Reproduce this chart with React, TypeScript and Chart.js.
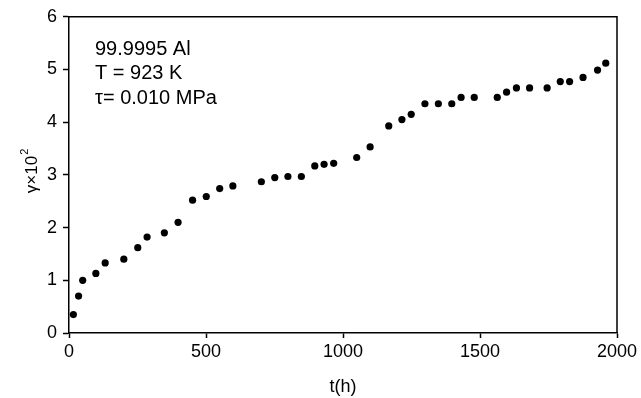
import React, { useEffect, useRef } from "react";
import { Chart, registerables } from "chart.js";

Chart.register(...registerables);

const times: number[] = [
  16, 35, 50, 98, 132, 200, 251, 285, 348, 398, 451, 501, 550, 598, 702, 751, 799, 848, 897, 931, 966,
  1050, 1099, 1167, 1215, 1249, 1299, 1348, 1397, 1431, 1479, 1563, 1597, 1633, 1681, 1745, 1793, 1827,
  1876, 1929, 1959,
];
const strains: number[] = [
  0.35, 0.7, 1.0, 1.13, 1.33, 1.4, 1.62, 1.82, 1.9, 2.1, 2.52, 2.59, 2.74, 2.79, 2.87, 2.95, 2.97, 2.97,
  3.17, 3.2, 3.22, 3.33, 3.53, 3.93, 4.05, 4.15, 4.35, 4.35, 4.35, 4.47, 4.47, 4.47, 4.57, 4.65, 4.65,
  4.65, 4.77, 4.77, 4.85, 4.99, 5.12,
];
const annotationLines: string[] = ["99.9995 Al", "T = 923 K", "\u03c4= 0.010 MPa"];
const xTitle = "t(h)";
const yTitleMain = "\u03b3\u00d710";
const yTitleSup = "2";

const FONT = "'Liberation Sans', Arial, Helvetica, sans-serif";

const framePlugin = {
  id: "frameAndNotes",
  afterDraw(chart: any) {
    const { ctx, chartArea } = chart;
    ctx.save();
    ctx.strokeStyle = "#000";
    ctx.lineWidth = 1.5;
    ctx.beginPath();
    ctx.moveTo(chartArea.left, chartArea.top);
    ctx.lineTo(chartArea.right, chartArea.top);
    ctx.lineTo(chartArea.right, chartArea.bottom);
    ctx.stroke();
    ctx.fillStyle = "#000";
    ctx.font = `20px ${FONT}`;
    ctx.textAlign = "left";
    ctx.textBaseline = "alphabetic";
    annotationLines.forEach((line, i) => {
      ctx.fillText(line, chartArea.left + 26, chartArea.top + 38 + i * 24.5);
    });

    // y axis title, rotated, with superscript
    ctx.font = `17px ${FONT}`;
    const mainW = ctx.measureText(yTitleMain).width;
    ctx.font = `11px ${FONT}`;
    const supW = ctx.measureText(yTitleSup).width;
    const total = mainW + supW + 1;
    const cy = (chartArea.top + chartArea.bottom) / 2 - 4;
    ctx.translate(37, cy);
    ctx.rotate(-Math.PI / 2);
    ctx.font = `17px ${FONT}`;
    ctx.fillText(yTitleMain, -total / 2, 0);
    ctx.font = `11px ${FONT}`;
    ctx.fillText(yTitleSup, -total / 2 + mainW + 1, -9);
    ctx.restore();
  },
};

export default function App() {
  const ref = useRef<HTMLCanvasElement | null>(null);
  useEffect(() => {
    if (!ref.current) return;
    const chart = new Chart(ref.current, {
      type: "scatter",
      data: {
        datasets: [
          {
            data: times.map((t, i) => ({ x: t, y: strains[i] })),
            backgroundColor: "#000",
            borderColor: "#000",
            pointRadius: 3.6,
            pointHoverRadius: 3.6,
            borderWidth: 0,
          },
        ],
      },
      options: {
        animation: false,
        responsive: false,
        maintainAspectRatio: false,
        layout: { padding: { top: 11, right: 24, left: 0, bottom: 0 } },
        plugins: { legend: { display: false }, tooltip: { enabled: false } },
        scales: {
          x: {
            type: "linear",
            min: 0,
            max: 2000,
            afterFit: (s: any) => {
              s.height = 65;
            },
            ticks: {
              stepSize: 500,
              color: "#000",
              font: { family: FONT, size: 18 },
              padding: 3,
              maxRotation: 0,
              callback: (v: any) => String(v),
            },
            grid: { drawOnChartArea: false, drawTicks: true, tickLength: 5, tickColor: "#000", tickWidth: 1.5 },
            border: { display: true, color: "#000", width: 1.5 },
            title: { display: true, text: xTitle, color: "#000", font: { family: FONT, size: 18 }, padding: { top: 4, bottom: 0 } },
          },
          y: {
            type: "linear",
            min: 0,
            max: 6,
            afterFit: (s: any) => {
              s.width = 69;
            },
            ticks: { stepSize: 1, color: "#000", font: { family: FONT, size: 18 }, padding: 6, callback: (v: any) => String(v) },
            grid: { drawOnChartArea: false, drawTicks: true, tickLength: 6, tickColor: "#000", tickWidth: 1.5 },
            border: { display: true, color: "#000", width: 1.5 },
            title: { display: false },
          },
        },
      },
      plugins: [framePlugin],
    });
    return () => chart.destroy();
  }, []);
  return (
    <div style={{ position: "absolute", left: 0, top: 0, width: 641, height: 398, background: "#fff" }}>
      <canvas ref={ref} width={641} height={398} style={{ display: "block", width: 641, height: 398 }} />
    </div>
  );
}
